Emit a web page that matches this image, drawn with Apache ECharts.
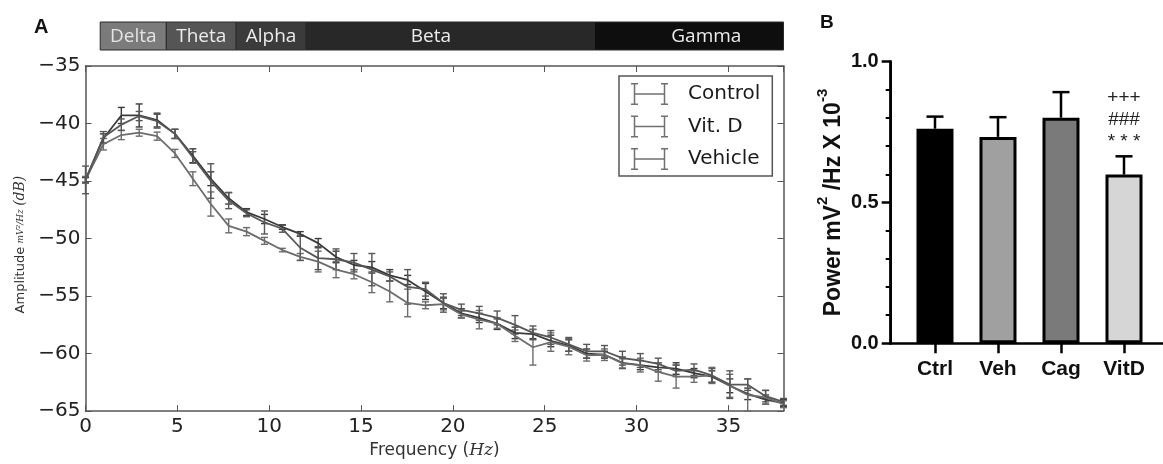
<!DOCTYPE html>
<html>
<head>
<meta charset="utf-8">
<script src="https://cdn.jsdelivr.net/npm/echarts@6/dist/echarts.min.js"></script>
<style>
html, body { margin: 0; padding: 0; background: #fff; }
#chart { width: 1163px; height: 464px; }
</style>
</head>
<body>
<div id="chart"></div>
<script>
// ---- panel A: spectrum (dB) ----
var freqs = [0, 0.974, 1.949, 2.923, 3.897, 4.872, 5.846, 6.821, 7.795, 8.769,
  9.744, 10.718, 11.692, 12.667, 13.641, 14.615, 15.590, 16.564, 17.538, 18.513,
  19.487, 20.462, 21.436, 22.410, 23.385, 24.359, 25.333, 26.308, 27.282, 28.256,
  29.231, 30.205, 31.179, 32.154, 33.128, 34.103, 35.077, 36.051, 37.026, 38.0];

var controlMean = [-44.9, -41.3, -39.3, -39.3, -39.7, -40.9, -42.8, -44.8, -46.5, -47.7,
  -48.3, -49.0, -49.6, -50.4, -51.6, -52.3, -52.5, -53.2, -53.6, -54.6,
  -55.6, -56.5, -56.9, -57.4, -58.2, -58.3, -58.9, -59.3, -60.0, -60.1,
  -60.8, -61.0, -61.2, -61.3, -61.7, -62.0, -62.8, -63.5, -64.0, -64.3];
var controlErr = [0.2, 0.4, 0.7, 1.0, 0.6, 0.4, 0.6, 0.6, 0.5, 0.3,
  0.4, 0.2, 0.2, 0.4, 0.5, 0.4, 0.5, 0.5, 0.4, 0.7,
  0.5, 0.4, 0.4, 0.5, 0.5, 0.4, 0.5, 0.5, 0.4, 0.3,
  0.5, 0.4, 0.4, 0.5, 0.4, 0.5, 0.6, 0.5, 0.4, 0.3];

var vitdMean = [-44.9, -41.8, -41.0, -40.8, -41.1, -42.6, -44.8, -47.0, -48.9, -49.4,
  -50.2, -51.0, -51.6, -52.0, -52.7, -53.1, -53.8, -54.6, -55.6, -55.8,
  -55.7, -56.6, -57.05, -57.4, -58.45, -59.45, -59.0, -59.4, -60.15, -60.1,
  -60.85, -61.0, -61.6, -62.0, -62.0, -61.9, -62.8, -63.6, -63.8, -64.4];
var vitdErr = [0.3, 0.5, 0.4, 0.3, 0.35, 0.35, 0.6, 1.05, 0.6, 0.35,
  0.3, 0.15, 0.3, 0.9, 0.7, 0.4, 0.9, 0.9, 1.2, 0.3,
  0.5, 0.3, 0.8, 0.4, 0.5, 1.55, 0.8, 0.7, 0.5, 0.5,
  0.4, 0.6, 0.8, 1.0, 0.5, 0.7, 1.0, 1.4, 0.6, 0.3];

var vehicleMean = [-44.9, -41.2, -40.1, -39.35, -39.8, -40.9, -42.95, -45.0, -46.7, -47.8,
  -48.6, -49.15, -50.8, -51.7, -51.8, -52.1, -52.7, -53.3, -54.2, -54.4,
  -55.6, -56.2, -56.5, -56.9, -57.5, -58.2, -58.6, -59.2, -59.8, -59.8,
  -60.4, -60.6, -60.9, -61.5, -61.4, -61.9, -62.7, -62.7, -63.7, -64.2];
var vehicleErr = [1.2, 0.5, 0.5, 0.4, 0.6, 0.4, 0.5, 1.5, 0.7, 0.3,
  1.0, 0.3, 1.1, 1.0, 0.9, 0.8, 1.4, 0.4, 1.5, 0.6,
  0.8, 0.5, 0.6, 0.6, 0.8, 0.6, 0.6, 0.6, 0.6, 0.5,
  0.6, 0.6, 0.5, 0.5, 0.5, 0.6, 1.2, 0.5, 0.5, 0.3];

// frequency bands shown above panel A
var bandNames = ['Delta', 'Theta', 'Alpha', 'Beta', 'Gamma'];
var bandStart = [0.8, 4.4, 8.2, 12, 27.7];
var bandEnd = [4.4, 8.2, 12, 27.7, 38];
var bandLabelAt = [2.6, 6.3, 10.1, 18.8, 33.8];

// ---- panel B: band power ----
var groups = ['Ctrl', 'Veh', 'Cag', 'VitD'];
var powerMean = [0.762, 0.733, 0.801, 0.599];
var powerSem = [0.043, 0.070, 0.091, 0.065];
var powerMarks = ['', '', '', '+++\n###\n* * *'];

var chart = echarts.init(document.getElementById('chart'));

var lineColors = { 'Control': '#3a3a3a', 'Vit. D': '#6c6c6c', 'Vehicle': '#575757' };
var bandColors = ['#7b7b7b', '#555555', '#3b3b3b', '#282828', '#0e0e0e'];
var barColors = ['#000000', '#a0a0a0', '#7a7a7a', '#d6d6d6'];

var ebIcon = 'path://M0,0H7V1.5H4.25V20.5H7V22H0V20.5H2.75V1.5H0Z' +
  'M30,0H37V1.5H34.25V20.5H37V22H30V20.5H32.75V1.5H30Z' +
  'M4.25,10.25H32.75V11.75H4.25Z';

function errorBarItem(color) {
  return function (params, api) {
    var x = api.value(0);
    var top = api.coord([x, api.value(2)]);
    var bot = api.coord([x, api.value(1)]);
    var w = 3.5;
    function st() { return { stroke: color, lineWidth: 1.4 }; }
    return {
      type: 'group',
      children: [
        { type: 'line', shape: { x1: top[0], y1: top[1], x2: bot[0], y2: bot[1] }, style: st() },
        { type: 'line', shape: { x1: top[0] - w, y1: top[1], x2: top[0] + w, y2: top[1] }, style: st() },
        { type: 'line', shape: { x1: bot[0] - w, y1: bot[1], x2: bot[0] + w, y2: bot[1] }, style: st() }
      ]
    };
  };
}

function spectrumSeries(name, mean, err) {
  return [{
    name: name,
    type: 'line',
    xAxisIndex: 0,
    yAxisIndex: 0,
    symbol: 'none',
    lineStyle: { color: lineColors[name], width: 1.8 },
    itemStyle: { color: lineColors[name] },
    data: freqs.map(function (f, i) { return [f, mean[i]]; })
  }, {
    name: name,
    type: 'custom',
    xAxisIndex: 0,
    yAxisIndex: 0,
    renderItem: errorBarItem(lineColors[name]),
    encode: { x: 0, y: [1, 2] },
    data: freqs.map(function (f, i) { return [f, mean[i] - err[i], mean[i] + err[i]]; }),
    z: 3
  }];
}

var axisGrey = '#555';
var dejavu = 'DejaVu Sans';
var arial = 'Liberation Sans';
var bXmin = -0.703;

var option = {
  animation: false,
  backgroundColor: '#fff',
  title: [
    { text: 'A', left: 29, top: 12, textStyle: { fontFamily: arial, fontWeight: 'bold', fontSize: 20, color: '#111' } },
    { text: 'B', left: 815, top: 8, textStyle: { fontFamily: arial, fontWeight: 'bold', fontSize: 19, color: '#111' } }
  ],
  legend: {
    data: ['Control', 'Vit. D', 'Vehicle'],
    orient: 'vertical',
    left: 619,
    top: 76,
    icon: ebIcon,
    itemWidth: 37,
    itemHeight: 22,
    itemGap: 10.5,
    padding: [7, 12, 6, 12],
    borderColor: '#555',
    borderWidth: 1.5,
    backgroundColor: '#fff',
    itemStyle: { color: '#707070' },
    textStyle: { fontFamily: dejavu, fontSize: 20, color: '#1a1a1a', padding: [0, 0, 0, 15] },
    selectedMode: false
  },
  grid: [
    { left: 85.5, top: 66, width: 698, height: 354.5 },
    { left: 890.7, top: 61.7, width: 272.3, height: 281.6 },
    { left: 85.5, top: 22, width: 698, height: 28 }
  ],
  xAxis: [
    {
      gridIndex: 0, type: 'value', min: 0, max: 38, interval: 5, position: 'bottom',
      axisLine: { onZero: false, lineStyle: { color: axisGrey, width: 1.5 } },
      axisTick: { inside: true, length: 6, lineStyle: { color: axisGrey, width: 1 } },
      axisLabel: { fontFamily: dejavu, fontSize: 20, color: '#222', margin: 6, showMaxLabel: false },
      splitLine: { show: false },
      name: 'Frequency ({i|Hz})',
      nameLocation: 'middle',
      nameGap: 27,
      nameTextStyle: {
        fontFamily: dejavu, fontSize: 17, color: '#333',
        rich: { i: { fontFamily: 'DejaVu Serif', fontStyle: 'italic', fontSize: 17, color: '#333' } }
      }
    },
    {
      gridIndex: 0, type: 'value', min: 0, max: 38, interval: 5, position: 'top',
      axisLine: { onZero: false, lineStyle: { color: axisGrey, width: 1.5 } },
      axisTick: { inside: true, length: 6, lineStyle: { color: axisGrey, width: 1 } },
      axisLabel: { show: false },
      splitLine: { show: false }
    },
    {
      gridIndex: 1, type: 'value', min: bXmin, max: 3.619, position: 'bottom',
      axisLine: { onZero: false, lineStyle: { color: '#000', width: 2.5 } },
      axisTick: { customValues: [0, 1, 2, 3], length: 10, lineStyle: { color: '#000', width: 2.5 } },
      axisLabel: {
        customValues: [0, 1, 2, 3],
        formatter: function (v) { return groups[Math.round(v)]; },
        fontFamily: arial, fontWeight: 'bold', fontSize: 21, color: '#111', margin: 15
      },
      splitLine: { show: false }
    },
    { gridIndex: 2, type: 'value', min: 0, max: 38, show: false }
  ],
  yAxis: [
    {
      gridIndex: 0, type: 'value', min: -65, max: -35, interval: 5, position: 'left',
      axisLine: { show: true, onZero: false, lineStyle: { color: axisGrey, width: 1.5 } },
      axisTick: { show: true, inside: true, length: 6, lineStyle: { color: axisGrey, width: 1 } },
      axisLabel: {
        fontFamily: dejavu, fontSize: 20, color: '#222', margin: 5,
        formatter: function (v) { return String(v).replace('-', '\u2212'); }
      },
      splitLine: { show: false },
      name: '{a|Amplitude} {f|mV\u00b2/Hz} {b|(dB)}',
      nameLocation: 'middle',
      nameGap: 57,
      nameTextStyle: {
        padding: [0, 0, 0, -12],
        rich: {
          a: { fontFamily: dejavu, fontSize: 13, color: '#333' },
          f: { fontFamily: 'DejaVu Serif', fontStyle: 'italic', fontSize: 9, color: '#333' },
          b: { fontFamily: 'DejaVu Serif', fontStyle: 'italic', fontSize: 14, color: '#333' }
        }
      }
    },
    {
      gridIndex: 0, type: 'value', min: -65, max: -35, interval: 5, position: 'right',
      axisLine: { show: true, onZero: false, lineStyle: { color: axisGrey, width: 1.5 } },
      axisTick: { show: true, inside: true, length: 6, lineStyle: { color: axisGrey, width: 1 } },
      axisLabel: { show: false },
      splitLine: { show: false }
    },
    {
      gridIndex: 1, type: 'value', min: 0, max: 1, interval: 0.5, position: 'left',
      axisLine: { show: true, onZero: false, lineStyle: { color: '#000', width: 2.5 } },
      axisTick: { show: true, length: 9, lineStyle: { color: '#000', width: 2.5 } },
      minorTick: { show: true, splitNumber: 5, length: 5, lineStyle: { color: '#000', width: 2 } },
      axisLabel: {
        fontFamily: arial, fontWeight: 'bold', fontSize: 20, color: '#111', margin: 12,
        formatter: function (v) { return v.toFixed(1); }
      },
      splitLine: { show: false },
      name: '{n|Power mV}{s|2}{n| /Hz X 10}{s|-3}',
      nameLocation: 'middle',
      nameGap: 46,
      nameTextStyle: {
        rich: {
          n: { fontFamily: arial, fontWeight: 'bold', fontSize: 23, color: '#111', lineHeight: 29, verticalAlign: 'bottom' },
          s: { fontFamily: arial, fontWeight: 'bold', fontSize: 15, color: '#111', lineHeight: 29, verticalAlign: 'top' }
        }
      }
    },
    { gridIndex: 2, type: 'value', min: 0, max: 1, show: false }
  ],
  series: [].concat(
    spectrumSeries('Control', controlMean, controlErr),
    spectrumSeries('Vit. D', vitdMean, vitdErr),
    spectrumSeries('Vehicle', vehicleMean, vehicleErr),
    [{
      type: 'custom',
      xAxisIndex: 3,
      yAxisIndex: 3,
      renderItem: function (params, api) {
        var i = params.dataIndex;
        var p0 = api.coord([api.value(0), 1]);
        var p1 = api.coord([api.value(1), 0]);
        var pl = api.coord([api.value(2), 0.5]);
        return {
          type: 'group',
          children: [
            { type: 'rect', shape: { x: p0[0], y: p0[1], width: p1[0] - p0[0], height: p1[1] - p0[1] },
              style: { fill: bandColors[i], stroke: '#2a2a2a', lineWidth: 1 } },
            { type: 'text', x: pl[0], y: pl[1] + 1,
              style: { text: bandNames[i], align: 'center', verticalAlign: 'middle',
                fontFamily: 'Open Sans', fontSize: 19, fill: i === 0 ? '#e4e4e4' : '#ececec' } }
          ]
        };
      },
      data: bandNames.map(function (b, i) { return [bandStart[i], bandEnd[i], bandLabelAt[i]]; })
    }, {
      type: 'bar',
      xAxisIndex: 2,
      yAxisIndex: 2,
      barWidth: 37,
      itemStyle: { borderColor: '#000', borderWidth: 3 },
      data: powerMean.map(function (v, i) {
        return { value: [i, v], itemStyle: { color: barColors[i] } };
      })
    }, {
      type: 'custom',
      xAxisIndex: 2,
      yAxisIndex: 2,
      z: 10,
      renderItem: function (params, api) {
        var i = params.dataIndex;
        var x = api.value(0);
        var base = api.coord([x, api.value(1)]);
        var top = api.coord([x, api.value(1) + api.value(2)]);
        var w = 8.5;
        var kids = [
          { type: 'line', shape: { x1: base[0], y1: base[1], x2: top[0], y2: top[1] }, style: { stroke: '#000', lineWidth: 2.5 } },
          { type: 'line', shape: { x1: top[0] - w, y1: top[1], x2: top[0] + w, y2: top[1] }, style: { stroke: '#000', lineWidth: 2.5 } }
        ];
        if (i === 0) {
          // value-axis spine of panel B, placed through the grid's own scale
          var s0 = api.coord([bXmin, 0]);
          var s1 = api.coord([bXmin, 1]);
          kids.push({ type: 'rect',
            shape: { x: s1[0] - 1.25, y: s1[1] - 1.25, width: 2.5, height: s0[1] - s1[1] + 2.5 },
            style: { fill: '#000' } });
        }
        if (powerMarks[i]) {
          kids.push({ type: 'text', x: top[0], y: top[1] - 4,
            style: { text: powerMarks[i], align: 'center', verticalAlign: 'bottom',
              fontFamily: arial, fontSize: 19, lineHeight: 22, fill: '#222' } });
        }
        return { type: 'group', children: kids };
      },
      data: powerMean.map(function (v, i) { return [i, v, powerSem[i]]; })
    }]
  )
};

chart.setOption(option);
</script>
</body>
</html>
